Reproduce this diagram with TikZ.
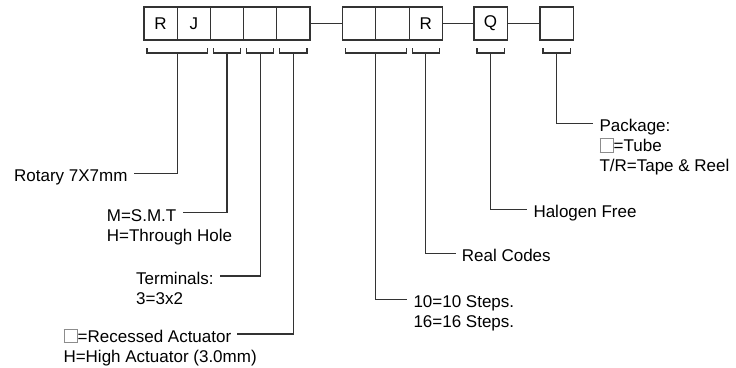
\documentclass[tikz,border=0pt]{standalone}
\usepackage{fontspec}
\setmainfont{Liberation Sans}
\usetikzlibrary{calc}
\newcommand{\emptysq}{{\color{black!45}\setlength{\fboxsep}{0pt}\setlength{\fboxrule}{0.6pt}\fbox{\rule{0pt}{13pt}\hspace{13pt}}}}
\begin{document}
\begin{tikzpicture}[x=1pt,y=-1pt,
  box/.style={draw=black!80, line width=1.1pt, minimum width=33.2pt, minimum height=33pt, inner sep=0pt, outer sep=0pt, font=\fontsize{17}{20}\selectfont},
  lbl/.style={font=\fontsize{17}{20}\selectfont, inner xsep=6pt, inner ysep=0pt, text height=16.8pt, text depth=0pt},
  wire/.style={draw=black!80, line width=1.1pt}]
\useasboundingbox (0,0) rectangle (736,367);
% boxes
\node[box] (b1) at (160.6,23.5) {R};
\node[box] (b2) at (193.8,23.5) {J};
\node[box] (b3) at (227.0,23.5) {};
\node[box] (b4) at (260.2,23.5) {};
\node[box] (b5) at (293.4,23.5) {};
\node[box] (b6) at (359.3,23.5) {};
\node[box] (b7) at (392.5,23.5) {};
\node[box] (b8) at (425.7,23.5) {R};
\node[box] (b9) at (490.6,23.5) {Q};
\node[box] (b10) at (556.6,23.5) {};
\draw[wire] (b5) -- (b6);
\draw[wire] (b8) -- (b9);
\draw[wire] (b9) -- (b10);
% brackets
\draw[wire] ($(b1.south west)+(3,8)$) -- ++(0,5) -| ($(b2.south east)+(-3,8)$);
\draw[wire] ($(b3.south west)+(3,8)$) -- ++(0,5) -| ($(b3.south east)+(-3,8)$);
\draw[wire] ($(b4.south west)+(3,8)$) -- ++(0,5) -| ($(b4.south east)+(-3,8)$);
\draw[wire] ($(b5.south west)+(3,8)$) -- ++(0,5) -| ($(b5.south east)+(-3,8)$);
\draw[wire] ($(b6.south west)+(3,8)$) -- ++(0,5) -| ($(b7.south east)+(-3,8)$);
\draw[wire] ($(b8.south west)+(3,8)$) -- ++(0,5) -| ($(b8.south east)+(-3,8)$);
\draw[wire] ($(b9.south west)+(3,8)$) -- ++(0,5) -| ($(b9.south east)+(-3,8)$);
\draw[wire] ($(b10.south west)+(3,8)$) -- ++(0,5) -| ($(b10.south east)+(-3,8)$);
% stem start points
\coordinate (s1) at ($(b1.south east)+(0,13)$);
\coordinate (s2) at ($(b3.south)+(0,13)$);
\coordinate (s3) at ($(b4.south)+(0,13)$);
\coordinate (s4) at ($(b5.south)+(0,13)$);
\coordinate (s5) at ($(b6.south east)+(0,13)$);
\coordinate (s6) at ($(b8.south)+(0,13)$);
\coordinate (s7) at ($(b9.south)+(0,13)$);
\coordinate (s8) at ($(b10.south)+(0,13)$);
% labels
\node[lbl, anchor=base east] (t1) at (133.7,181.7) {Rotary 7X7mm};
\node[lbl, anchor=base west] (t2) at (100.7,221.1) {M=S.M.T};
\node[lbl, anchor=base west] (t2b) at ($(t2.base west)+(0,20)$) {H=Through Hole};
\node[lbl, anchor=base west] (t3) at (130,284.4) {Terminals:};
\node[lbl, anchor=base west] (t3b) at ($(t3.base west)+(0,20)$) {3=3x2};
\node[lbl, anchor=base west] (t4) at (57.3,342.4) {\emptysq=Recessed Actuator};
\node[lbl, anchor=base west] (t4b) at ($(t4.base west)+(0,20)$) {H=High Actuator (3.0mm)};
\node[lbl, anchor=base west] (t5) at (407.3,307.7) {10=10 Steps.};
\node[lbl, anchor=base west] (t5b) at ($(t5.base west)+(0,20)$) {16=16 Steps.};
\node[lbl, anchor=base west] (t6) at (455.7,261.7) {Real Codes};
\node[lbl, anchor=base west] (t7) at (527.3,217.7) {Halogen Free};
\node[lbl, anchor=base west] (t8) at (593.3,131.7) {Package:};
\node[lbl, anchor=base west] (t8b) at ($(t8.base west)+(0,20)$) {\emptysq=Tube};
\node[lbl, anchor=base west] (t8c) at ($(t8b.base west)+(0,20)$) {T/R=Tape \& Reel};
% leaders
\draw[wire] (s1) |- (t1);
\draw[wire] (s2) |- (t2);
\draw[wire] (s3) |- (t3);
\draw[wire] (s4) |- (t4);
\draw[wire] (s5) |- (t5);
\draw[wire] (s6) |- (t6);
\draw[wire] (s7) |- (t7);
\draw[wire] (s8) |- (t8);
\end{tikzpicture}
\end{document}
